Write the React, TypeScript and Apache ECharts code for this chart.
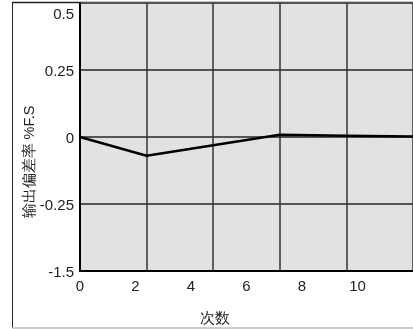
import React, { useEffect, useRef } from "react";
import * as echarts from "echarts";

const xValues = [0, 2.4, 7.2, 9.6, 12];
const yValues = [0, -0.07, 0.008, 0.005, 0.002];
const yTickLabels: Record<string, string> = { "-0.5": "-1.5" };
const xName = "次数";
const yName = "输出偏差率 %F.S";

export default function App() {
  const ref = useRef<HTMLDivElement>(null);
  useEffect(() => {
    if (!ref.current) return;
    const chart = echarts.init(ref.current, undefined, { renderer: "svg" });
    const font = "Liberation Sans, Arial, sans-serif";
    chart.setOption({
      animation: false,
      grid: { left: 80, top: 3, right: 0, bottom: 58, show: true, backgroundColor: "#e1e2e4", borderWidth: 0 },
      xAxis: [
        {
          type: "value", min: 0, max: 12, interval: 2,
          axisLine: { show: true, onZero: false, lineStyle: { color: "#000", width: 2 } },
          axisTick: { show: false },
          splitLine: { show: false },
          axisLabel: { showMaxLabel: false, color: "#222", fontSize: 15, margin: 7, fontFamily: font },
        },
        {
          type: "value", min: 0, max: 12, interval: 2.4, position: "bottom",
          axisLine: { show: false }, axisTick: { show: false }, axisLabel: { show: false },
          splitLine: { show: true, lineStyle: { color: "#333", width: 1.5 } },
        },
      ],
      yAxis: {
        type: "value", min: -0.5, max: 0.5, interval: 0.25,
        axisLine: { show: true, onZero: false, lineStyle: { color: "#000", width: 2 } },
        axisTick: { show: false },
        splitLine: { show: true, lineStyle: { color: "#555", width: 2 } },
        axisLabel: {
          color: "#222", fontSize: 15, margin: 6, fontFamily: font,
          formatter: (v: number) => {
            const s = yTickLabels[String(v)] ?? String(v);
            return v === 0.5 ? "{top|" + s + "}" : s;
          },
          rich: { top: { padding: [20, 0, 0, 0], fontSize: 15, color: "#222", fontFamily: font } },
        },
      },
      series: [
        {
          type: "line", xAxisIndex: 0, yAxisIndex: 0,
          data: xValues.map((x, i) => [x, yValues[i]]),
          symbol: "none",
          lineStyle: { color: "#000", width: 2.5 },
        },
      ],
      graphic: [
        { type: "line", shape: { x1: 12.5, y1: 3, x2: 12.5, y2: 328 }, style: { stroke: "#222", lineWidth: 1 } },
        { type: "line", shape: { x1: 12, y1: 2.5, x2: 413, y2: 2.5 }, style: { stroke: "#222", lineWidth: 1.5 } },
        { type: "line", shape: { x1: 12, y1: 328, x2: 413, y2: 328 }, style: { stroke: "#bbb", lineWidth: 1.5 } },
        {
          type: "text", x: 29, y: 162, rotation: Math.PI / 2,
          style: { text: yName, fill: "#222", fontSize: 14.5, fontFamily: font, align: "center", verticalAlign: "middle" },
        },
        {
          type: "text", x: 215, y: 317,
          style: { text: xName, fill: "#222", fontSize: 15, fontFamily: font, align: "center", verticalAlign: "middle" },
        },
      ],
    });
    return () => chart.dispose();
  }, []);
  return <div ref={ref} style={{ position: "fixed", left: 0, top: 0, width: 413, height: 329 }} />;
}
